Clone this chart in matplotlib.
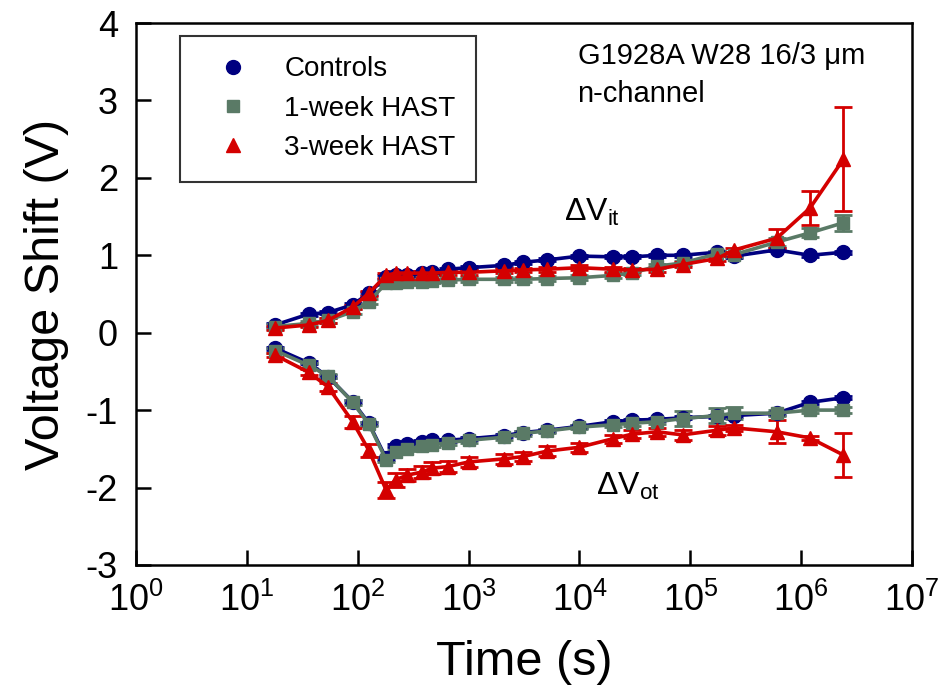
import matplotlib
matplotlib.use("Agg")
import matplotlib.pyplot as plt
from matplotlib.lines import Line2D

plt.rcParams['font.family'] = ['Liberation Sans', 'DejaVu Sans']
plt.rcParams['mathtext.fontset'] = 'custom'
plt.rcParams['mathtext.rm'] = 'Liberation Sans'
plt.rcParams['mathtext.it'] = 'Liberation Sans'
plt.rcParams['axes.unicode_minus'] = False

time_s = [18, 36, 54, 90, 126, 180, 220, 280, 380, 470, 650, 1000, 2100, 3100,
          5100, 1e4, 2e4, 3e4, 5e4, 8.5e4, 1.75e5, 2.5e5, 6e5, 1.2e6, 2.4e6]

# Delta V_it (upper curves)
vit_ctrl = [0.10, 0.24, 0.26, 0.36, 0.51, 0.72, 0.74, 0.75, 0.77, 0.78, 0.82, 0.84, 0.87,
            0.91, 0.94, 0.99, 0.98, 0.98, 1.00, 1.00, 1.04, 0.99, 1.07, 1.00, 1.04]
vit_1wk = [0.08, 0.12, 0.16, 0.27, 0.40, 0.64, 0.64, 0.65, 0.66, 0.67, 0.68, 0.69, 0.69,
           0.69, 0.70, 0.71, 0.74, 0.77, 0.86, 0.90, 1.02, 1.01, 1.17, 1.29, 1.42]
vit_3wk = [0.06, 0.10, 0.16, 0.33, 0.51, 0.74, 0.77, 0.77, 0.77, 0.77, 0.78, 0.78, 0.80,
           0.81, 0.82, 0.84, 0.82, 0.81, 0.82, 0.88, 0.96, 1.07, 1.22, 1.61, 2.24]
vit_ctrl_err = [0.02] * 25
vit_1wk_err = [0.03] * 22 + [0.05, 0.06, 0.10]
vit_3wk_err = [0.03] * 22 + [0.12, 0.22, 0.67]

# Delta V_ot (lower curves)
vot_ctrl = [-0.20, -0.39, -0.57, -0.89, -1.17, -1.62, -1.46, -1.44, -1.41, -1.39, -1.39, -1.37, -1.33,
            -1.29, -1.26, -1.21, -1.15, -1.13, -1.12, -1.10, -1.08, -1.07, -1.04, -0.90, -0.84]
vot_1wk = [-0.23, -0.42, -0.56, -0.90, -1.18, -1.64, -1.54, -1.50, -1.47, -1.45, -1.42, -1.39, -1.35,
           -1.30, -1.27, -1.22, -1.19, -1.17, -1.15, -1.11, -1.07, -1.04, -1.04, -1.00, -1.00]
vot_3wk = [-0.29, -0.51, -0.70, -1.15, -1.52, -2.03, -1.90, -1.84, -1.80, -1.75, -1.73, -1.67, -1.63,
           -1.60, -1.53, -1.48, -1.37, -1.31, -1.28, -1.32, -1.26, -1.23, -1.28, -1.36, -1.58]
vot_ctrl_err = [0.02] * 25
vot_1wk_err = [0.03] * 19 + [0.10, 0.10, 0.08, 0.04, 0.04, 0.04]
vot_3wk_err = [0.03, 0.04, 0.05, 0.08, 0.08, 0.10, 0.09, 0.08, 0.08, 0.08, 0.07, 0.07, 0.06,
               0.06, 0.06, 0.06, 0.05, 0.05, 0.05, 0.06, 0.06, 0.04, 0.15, 0.03, 0.28]

labels = ['Controls', '1-week HAST', '3-week HAST']
colors = ['#000080', '#5a7a66', '#d40000']
markers = ['o', 's', '^']
msizes = [10, 9, 10.5]

fig = plt.figure(figsize=(9.43, 7.0), dpi=100)
ax = fig.add_axes([0.1442, 0.193, 0.823, 0.774])

series = [
    (vit_ctrl, vit_ctrl_err, vot_ctrl, vot_ctrl_err),
    (vit_1wk, vit_1wk_err, vot_1wk, vot_1wk_err),
    (vit_3wk, vit_3wk_err, vot_3wk, vot_3wk_err),
]
for (up, uperr, lo, loerr), c, m, ms in zip(series, colors, markers, msizes):
    for y, e in ((up, uperr), (lo, loerr)):
        ax.errorbar(time_s, y, yerr=e, color=c, marker=m, markersize=ms,
                    markeredgecolor=c, lw=2.6, elinewidth=2.0, capsize=6.5, capthick=2.0)

ax.set_xscale('log')
ax.set_xlim(1, 1e7)
ax.set_ylim(-3, 4)
ax.set_xticks([10 ** k for k in range(8)])
ax.set_yticks(range(-3, 5))
ax.minorticks_off()
ax.tick_params(direction='in', length=11, width=1.8, labelsize=26)
ax.tick_params(axis='x', pad=13)
ax.tick_params(axis='y', pad=13)
for s in ax.spines.values():
    s.set_linewidth(1.8)
ax.set_xlabel('Time (s)', fontsize=35, labelpad=15)
ax.set_ylabel('Voltage Shift (V)', fontsize=35, labelpad=12)

ax.text(0.569, 0.905, 'G1928A W28 16/3 \u03bcm\nn-channel', transform=ax.transAxes,
        fontsize=21, va='center', ha='left', linespacing=1.45)
ax.text(1.3e4, 1.55, r'$\Delta\mathregular{V_{it}}$', fontsize=23, ha='center', va='center')
ax.text(2.7e4, -1.99, r'$\Delta\mathregular{V_{ot}}$', fontsize=23, ha='center', va='center')

handles = [Line2D([], [], color=c, marker=m, ls='none', markersize=ms)
           for c, m, ms in zip(colors, markers, msizes)]
leg = ax.legend(handles, labels, loc='upper left', bbox_to_anchor=(0.057, 0.977),
                fontsize=20, frameon=True, fancybox=False, edgecolor='black',
                borderpad=0.75, handletextpad=0.7, labelspacing=0.48, borderaxespad=0,
                handlelength=2.3)
leg.get_frame().set_linewidth(1.5)

fig.savefig('out.png', dpi=100)
